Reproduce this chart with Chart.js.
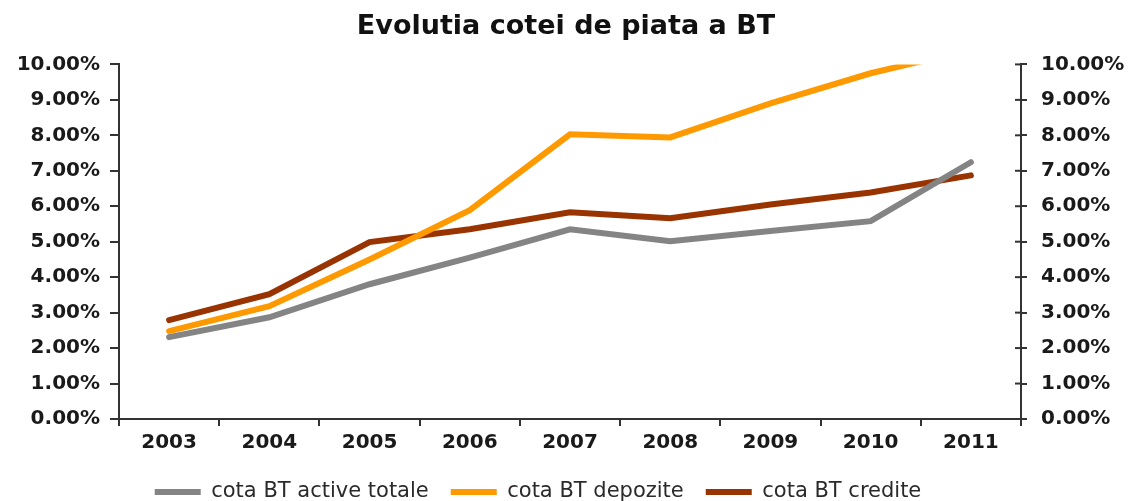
<!DOCTYPE html>
<html>
<head>
<meta charset="utf-8">
<script src="https://cdn.jsdelivr.net/npm/chart.js@4/dist/chart.umd.min.js"></script>
<style>
html,body{margin:0;padding:0;background:#fff;}
#wrap{width:1132px;height:501px;}
</style>
</head>
<body>
<div id="wrap"><canvas id="c" width="1132" height="501"></canvas></div>
<script>
const categories = ['2003','2004','2005','2006','2007','2008','2009','2010','2011'];
const activeTotale = [2.31, 2.87, 3.80, 4.55, 5.35, 5.01, 5.30, 5.58, 7.24];
const depozite     = [2.48, 3.18, 4.50, 5.89, 8.03, 7.94, 8.90, 9.75, 10.42];
const credite      = [2.79, 3.52, 4.99, 5.35, 5.83, 5.66, 6.05, 6.39, 6.87];
const yTicks = [0,1,2,3,4,5,6,7,8,9,10];

const tickFont = {family:'DejaVu Sans', size:20, weight:'bold'};
const axisColor = '#333';
const textColor = '#1a1a1a';

const rightCross = {
  id:'rightCross',
  afterDraw(chart){
    const s = chart.scales.y2, ctx = chart.ctx;
    ctx.save();
    ctx.strokeStyle = axisColor; ctx.lineWidth = 2;
    s.ticks.forEach(t => {
      const y = s.getPixelForValue(t.value);
      ctx.beginPath(); ctx.moveTo(s.left - 6, y); ctx.lineTo(s.left, y); ctx.stroke();
    });
    ctx.restore();
  }
};
const legendShift = {
  id:'legendShift',
  afterLayout(chart){
    const l = chart.legend;
    l.left -= 28; l.right -= 28;
    l.top += 11.5; l.bottom += 11.5;
  }
};

new Chart(document.getElementById('c'), {
  type:'line',
  data:{
    labels:categories,
    datasets:[
      {label:'cota BT active totale', data:activeTotale, borderColor:'#848484', backgroundColor:'#848484'},
      {label:'cota BT depozite', data:depozite, borderColor:'#FF9900', backgroundColor:'#FF9900'},
      {label:'cota BT credite', data:credite, borderColor:'#993300', backgroundColor:'#993300'}
    ].map(d => Object.assign(d, {borderWidth:6, pointRadius:0, pointHoverRadius:0, tension:0, borderCapStyle:'round', borderJoinStyle:'miter', fill:false, yAxisID:'y'}))
  },
  options:{
    responsive:false,
    animation:false,
    events:[],
    layout:{padding:0},
    plugins:{
      title:{display:true, text:'Evolutia cotei de piata a BT', color:'#111',
        font:{family:'DejaVu Sans', size:27, weight:'bold'}, padding:{top:11, bottom:21}},
      legend:{position:'bottom',
        labels:{usePointStyle:true, pointStyle:'line', pointStyleWidth:46, boxHeight:21,
          padding:22, color:'#2a2a2a', font:{family:'DejaVu Sans', size:21}}},
      tooltip:{enabled:false}
    },
    scales:{
      x:{
        offset:true,
        grid:{offset:true, drawOnChartArea:false, drawTicks:true, tickLength:7, color:axisColor, lineWidth:2},
        border:{display:true, color:axisColor, width:2},
        ticks:{font:tickFont, color:textColor, padding:5, maxRotation:0},
        afterFit(s){ s.height = 29; }
      },
      y:{
        position:'left', min:0, max:10,
        afterBuildTicks(s){ s.ticks = yTicks.map(v => ({value:v})); },
        grid:{drawOnChartArea:false, drawTicks:true, tickLength:9, color:axisColor, lineWidth:2},
        border:{display:true, color:axisColor, width:2},
        ticks:{font:tickFont, color:textColor, padding:10, callback:v => v.toFixed(2)+'%'},
        afterFit(s){ s.width = 119; }
      },
      y2:{
        position:'right', min:0, max:10,
        afterBuildTicks(s){ s.ticks = yTicks.map(v => ({value:v})); },
        grid:{drawOnChartArea:false, drawTicks:true, tickLength:6, color:axisColor, lineWidth:2},
        border:{display:true, color:axisColor, width:2},
        ticks:{font:tickFont, color:textColor, padding:14, callback:v => v.toFixed(2)+'%'},
        afterFit(s){ s.width = 111; }
      }
    }
  },
  plugins:[rightCross, legendShift]
});
</script>
</body>
</html>
